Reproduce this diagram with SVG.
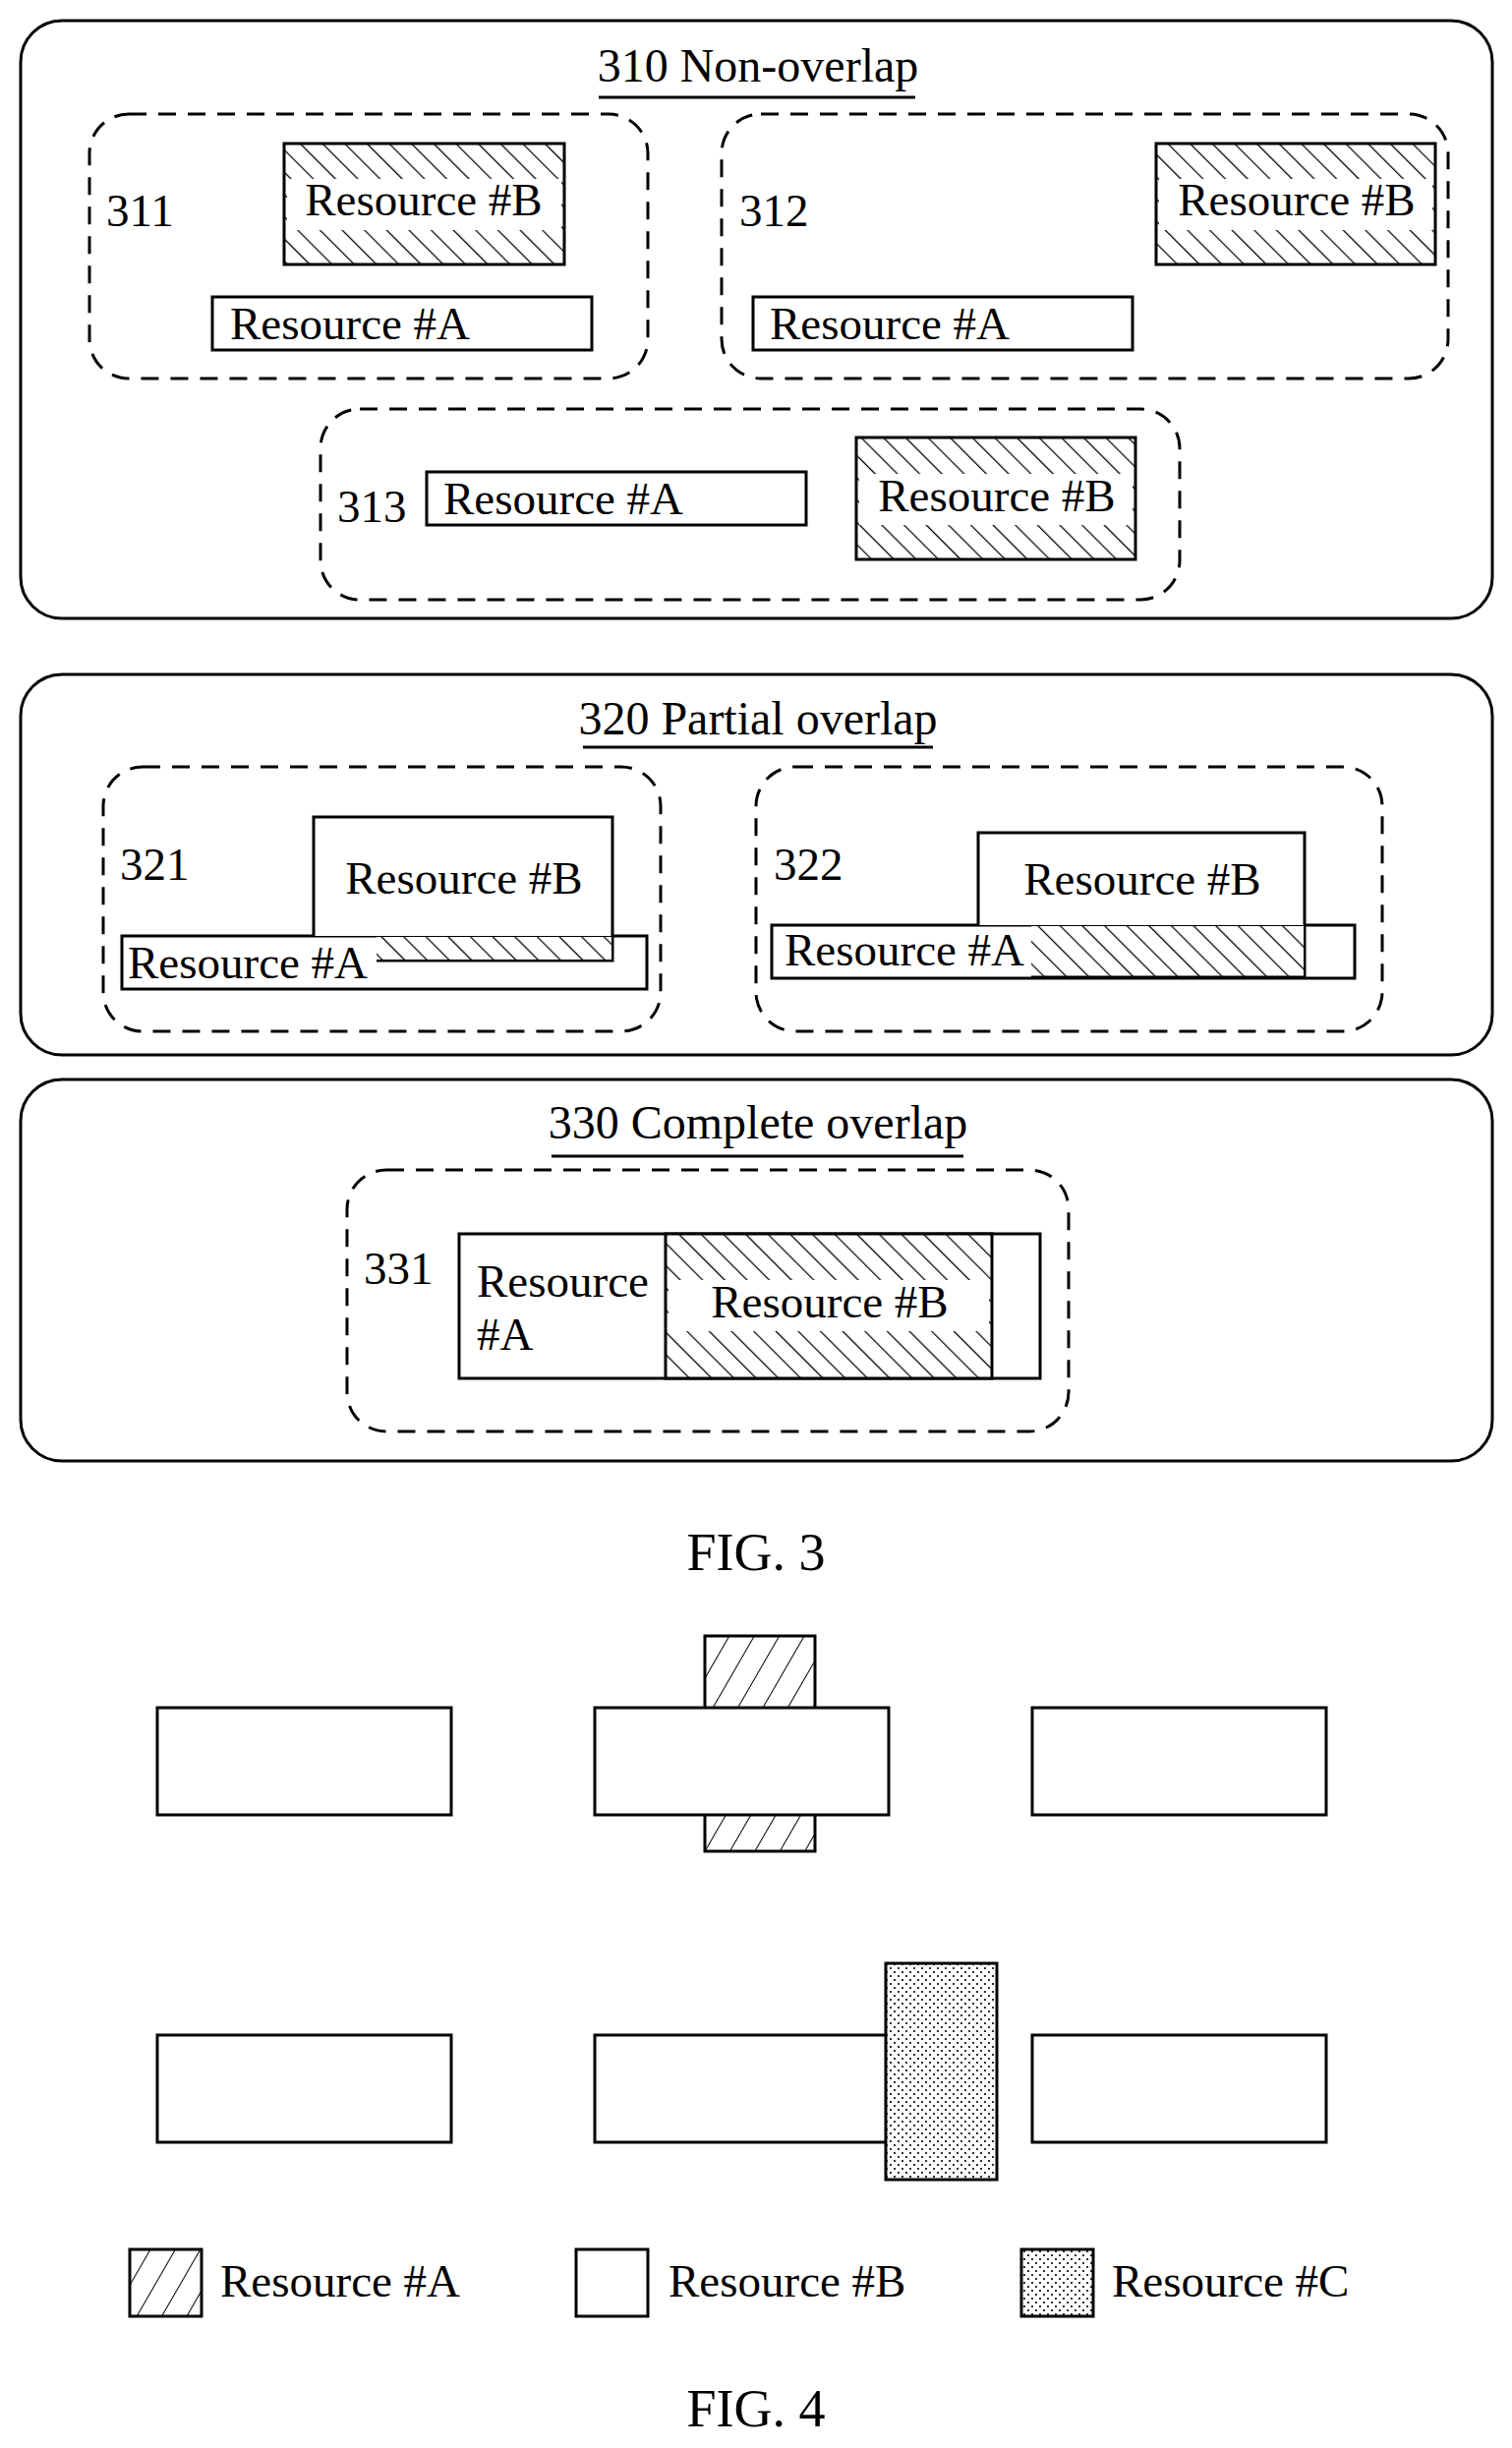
<svg xmlns="http://www.w3.org/2000/svg" width="1538" height="2490" viewBox="0 0 1538 2490">
<defs>
<pattern id="hb" width="16" height="16" patternUnits="userSpaceOnUse" patternTransform="rotate(-45)"><rect width="16" height="16" fill="#fff"/><line x1="0" y1="0" x2="0" y2="16" stroke="#000" stroke-width="2.5"/></pattern>
<pattern id="hf" width="22" height="22" patternUnits="userSpaceOnUse" patternTransform="rotate(30)"><rect width="22" height="22" fill="#fff"/><line x1="0" y1="0" x2="0" y2="22" stroke="#000" stroke-width="2"/></pattern>
<pattern id="dots" width="8" height="8" patternUnits="userSpaceOnUse"><rect width="8" height="8" fill="#fff"/><circle cx="2" cy="2" r="1.1" fill="#000"/><circle cx="6" cy="6" r="1.1" fill="#000"/></pattern>
</defs>
<style>
text{font-family:"Liberation Serif","Times New Roman",serif;font-size:47px;fill:#000}
.t{font-size:48px}
.f{font-size:54px}
.m{text-anchor:middle}
.box{fill:none;stroke:#000;stroke-width:3}
.dash{fill:none;stroke:#000;stroke-width:3;stroke-dasharray:18 12}
.r{fill:#fff;stroke:#000;stroke-width:3}
.hb{fill:url(#hb);stroke:#000;stroke-width:3}
.hf{fill:url(#hf);stroke:#000;stroke-width:3}
.dt{fill:url(#dots);stroke:#000;stroke-width:3}
.u{stroke:#000;stroke-width:3}
.w{fill:#fff}
</style>
<rect width="1538" height="2490" fill="#fff"/>

<g id="g310">
<rect class="box" x="21" y="21" width="1497" height="608" rx="42"/>
<text class="t m" x="771" y="83">310 Non-overlap</text>
<line class="u" x1="609" y1="99" x2="931" y2="99"/>
</g>
<g id="n311">
<rect class="dash" x="91" y="116" width="568" height="269" rx="40"/>
<text x="108" y="230">311</text>
<rect class="hb" x="289" y="146" width="285" height="123"/>
<rect class="w" x="292" y="182" width="279" height="52"/>
<text class="m" x="431" y="219">Resource #B</text>
<rect class="r" x="216" y="302" width="386" height="54"/>
<text x="234" y="345">Resource #A</text>
</g>
<g id="n312">
<rect class="dash" x="734" y="116" width="739" height="269" rx="40"/>
<text x="752" y="230">312</text>
<rect class="hb" x="1176" y="146" width="284" height="123"/>
<rect class="w" x="1179" y="182" width="278" height="52"/>
<text class="m" x="1319" y="219">Resource #B</text>
<rect class="r" x="766" y="302" width="386" height="54"/>
<text x="783" y="345">Resource #A</text>
</g>
<g id="n313">
<rect class="dash" x="326" y="416" width="874" height="194" rx="40"/>
<text x="343" y="531">313</text>
<rect class="r" x="434" y="480" width="386" height="54"/>
<text x="451" y="523">Resource #A</text>
<rect class="hb" x="871" y="445" width="284" height="124"/>
<rect class="w" x="874" y="482" width="278" height="52"/>
<text class="m" x="1014" y="520">Resource #B</text>
</g>

<g id="g320">
<rect class="box" x="21" y="686" width="1497" height="387" rx="42"/>
<text class="t m" x="771" y="747">320 Partial overlap</text>
<line class="u" x1="593" y1="760" x2="949" y2="760"/>
</g>
<g id="n321">
<rect class="dash" x="105" y="780" width="567" height="269" rx="40"/>
<text x="122" y="895">321</text>
<rect class="r" x="124" y="952" width="534" height="54"/>
<rect class="w" x="319" y="831" width="304" height="121"/>
<path class="box" d="M319,952 V831 H623 V977 H383"/>
<rect x="383" y="953" width="239" height="23" fill="url(#hb)"/>
<text class="m" x="472" y="909">Resource #B</text>
<text x="130" y="995">Resource #A</text>
</g>
<g id="n322">
<rect class="dash" x="769" y="780" width="637" height="269" rx="40"/>
<text x="787" y="895">322</text>
<rect class="r" x="785" y="941" width="593" height="54"/>
<rect class="w" x="995" y="847" width="332" height="94"/>
<path class="box" d="M995,941 V847 H1327 V993 H1049"/>
<rect x="1049" y="942" width="277" height="51" fill="url(#hb)"/>
<line class="u" x1="1049" y1="994" x2="1327" y2="994"/>
<text class="m" x="1162" y="910">Resource #B</text>
<text x="798" y="982">Resource #A</text>
</g>

<g id="g330">
<rect class="box" x="21" y="1098" width="1497" height="388" rx="42"/>
<text class="t m" x="771" y="1158">330 Complete overlap</text>
<line class="u" x1="561" y1="1176" x2="980" y2="1176"/>
</g>
<g id="n331">
<rect class="dash" x="353" y="1190" width="734" height="266" rx="40"/>
<text x="370" y="1306">331</text>
<rect class="r" x="467" y="1255" width="591" height="147"/>
<rect class="hb" x="677" y="1255" width="332" height="147"/>
<rect class="w" x="680" y="1302" width="326" height="52"/>
<text x="485" y="1319">Resource</text>
<text x="485" y="1373">#A</text>
<text class="m" x="844" y="1340">Resource #B</text>
</g>
<text class="f m" x="769" y="1597">FIG. 3</text>

<g id="fig4">
<rect class="hf" x="717" y="1664" width="112" height="219"/>
<rect class="r" x="160" y="1737" width="299" height="109"/>
<rect class="r" x="605" y="1737" width="299" height="109"/>
<rect class="r" x="1050" y="1737" width="299" height="109"/>
<rect class="r" x="160" y="2070" width="299" height="109"/>
<rect class="r" x="605" y="2070" width="299" height="109"/>
<rect class="r" x="1050" y="2070" width="299" height="109"/>
<rect class="dt" x="901" y="1997" width="113" height="220"/>
</g>
<g id="legend">
<rect class="hf" x="132" y="2288" width="73" height="68"/>
<text x="224" y="2336">Resource #A</text>
<rect class="r" x="586" y="2288" width="73" height="68"/>
<text x="680" y="2336">Resource #B</text>
<rect class="dt" x="1039" y="2288" width="73" height="68"/>
<text x="1131" y="2336">Resource #C</text>
</g>
<text class="f m" x="769" y="2468">FIG. 4</text>
<g id="connectors"/>
</svg>
